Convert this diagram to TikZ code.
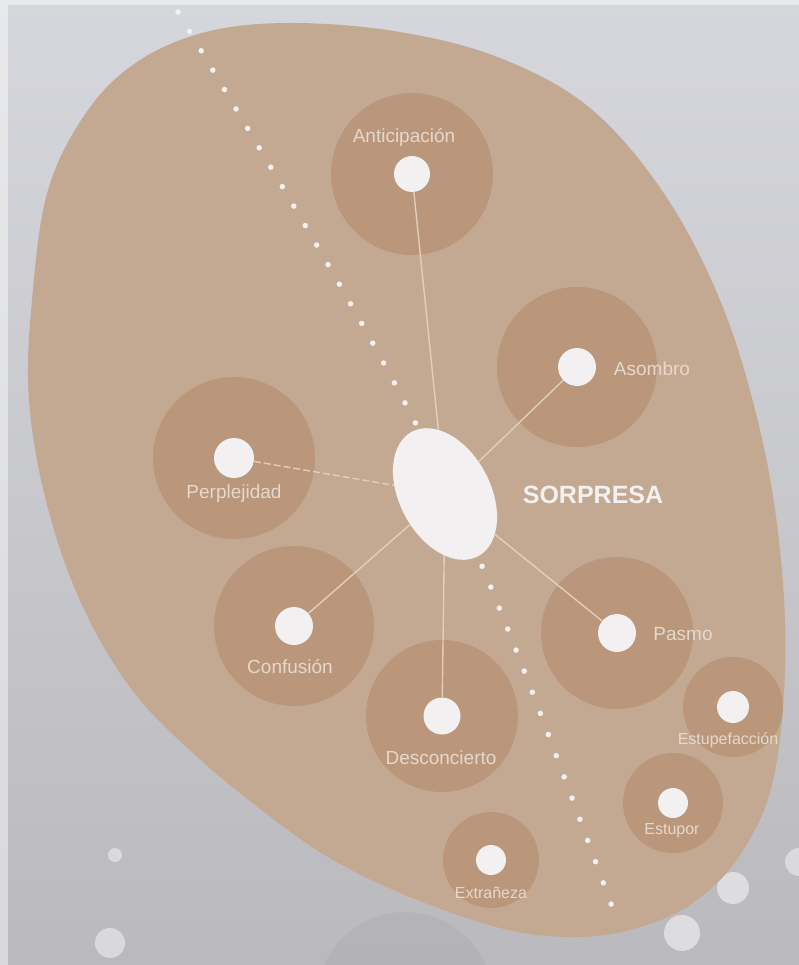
\documentclass[tikz,border=0pt]{standalone}
\usepackage{fontspec}
\newfontfamily\labfont{Liberation Sans}
\usetikzlibrary{shapes.geometric}
\definecolor{bgtop}{RGB}{214,215,220}
\definecolor{bgbot}{RGB}{186,186,190}
\definecolor{bigtan}{RGB}{196,169,146}
\definecolor{halo}{RGB}{186,150,122}
\definecolor{dotw}{RGB}{242,240,240}
\definecolor{linkc}{RGB}{226,206,186}
\definecolor{labc}{RGB}{230,217,204}
\begin{document}
\begin{tikzpicture}[x=1pt,y=-1pt,
  spot/.style={circle, fill=dotw, draw=none, inner sep=0pt, minimum size=#1},
  hub/.style={ellipse, fill=dotw, draw=none, inner sep=0pt, minimum width=91pt, minimum height=141pt, rotate=28},
  link/.style={draw=linkc, line width=1.4pt},
  dotline/.style={draw=dotw, line width=5.5pt, line cap=round, dash pattern=on 0pt off 22.6pt},
  lab/.style={font=\labfont\fontsize{19}{19}\selectfont, text=labc, inner sep=0pt},
  slab/.style={font=\labfont\fontsize{16}{16}\selectfont, text=labc, inner sep=0pt},
  halofill/.style={fill=halo}]
\useasboundingbox (0,0) rectangle (799,965);
% background
\shade[top color=bgtop, bottom color=bgbot] (0,0) rectangle (799,965);
\fill[white, opacity=0.45] (0,0) rectangle (8,965);
\fill[white, opacity=0.45] (8,0) rectangle (799,5);
\fill[black, opacity=0.035] (405,1000) circle (88);
\fill[white, opacity=0.45] (115,855) circle (7);
\fill[white, opacity=0.45] (110,943) circle (15);
\fill[white, opacity=0.5] (733,888) circle (16);
\fill[white, opacity=0.5] (682,933) circle (18);
\fill[white, opacity=0.45] (799,862) circle (14);
% big emotion field
\fill[bigtan] plot[smooth cycle, tension=0.6] coordinates {
 (295,23) (400,32) (500,58) (590,108) (665,195) (722,305) (760,430)
 (780,550) (785,670) (772,785) (738,858) (690,905) (630,930) (570,937)
 (500,928) (410,897) (333,860) (268,815) (195,755) (132,690) (82,605)
 (47,505) (29,400) (32,300) (48,190) (88,110) (140,60) (210,31)};
% coordinates of the satellites
\coordinate (pant) at (412,174);
\coordinate (paso) at (577,367);
\coordinate (pper) at (234,458);
\coordinate (pcon) at (294,626);
\coordinate (pdes) at (442,716);
\coordinate (ppas) at (617,633);
\coordinate (pest) at (733,707);
\coordinate (pstu) at (673,803);
\coordinate (pext) at (491,860);
% halos
\fill[halofill] (pant) circle (81);
\fill[halofill] (paso) circle (80);
\fill[halofill] (pper) circle (81);
\fill[halofill] (pcon) circle (80);
\fill[halofill] (pdes) circle (76);
\fill[halofill] (ppas) circle (76);
\fill[halofill] (pest) circle (50);
\fill[halofill] (pstu) circle (50);
\fill[halofill] (pext) circle (48);
% dotted axis
\draw[dotline] (178,12) .. controls (450,466) .. (617,920);
% nodes
\node[hub] (c) at (445,494) {};
\node[spot=36pt] (ant) at (pant) {};
\node[spot=38pt] (aso) at (paso) {};
\node[spot=40pt] (per) at (pper) {};
\node[spot=38pt] (con) at (pcon) {};
\node[spot=37pt] (des) at (pdes) {};
\node[spot=38pt] (pas) at (ppas) {};
\node[spot=32pt] (est) at (pest) {};
\node[spot=30pt] (stu) at (pstu) {};
\node[spot=30pt] (ext) at (pext) {};
% connectors
\draw[link] (ant) -- (c);
\draw[link] (aso) -- (c);
\draw[link, dash pattern=on 7pt off 3pt] (per) -- (c);
\draw[link] (con) -- (c);
\draw[link] (des) -- (c);
\draw[link] (pas) -- (c);
% labels
\node[lab] (lant) at (404,137) {Anticipación};
\node[lab] (laso) at (652,369) {Asombro};
\node[lab] (lper) at (234,494) {Perplejidad};
\node[lab] (lcon) at (290,667) {Confusión};
\node[lab] (ldes) at (441,758) {Desconcierto};
\node[lab] (lpas) at (683,634) {Pasmo};
\node[slab] (lest) at (728,740) {Estupefacción};
\node[slab] (lstu) at (672,831) {Estupor};
\node[slab] (lext) at (491,893) {Extrañeza};
\node[font=\labfont\bfseries\fontsize{25}{25}\selectfont, text=dotw, inner sep=0pt] (title) at (593,495) {SORPRESA};
\end{tikzpicture}
\end{document}
